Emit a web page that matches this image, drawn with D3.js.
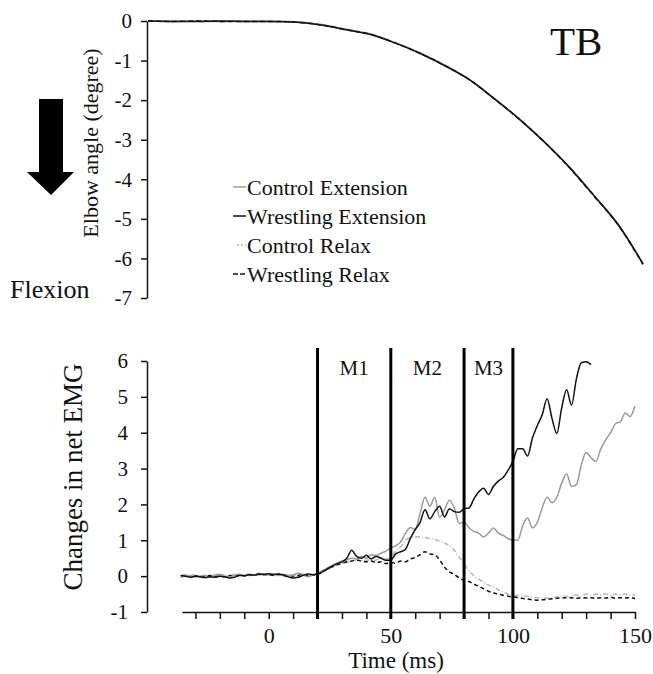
<!DOCTYPE html>
<html>
<head>
<meta charset="utf-8">
<script src="https://cdn.jsdelivr.net/npm/d3@7"></script>
<style>
  body { margin: 0; background: #fff; }
  text { font-family: "Liberation Serif", "Times New Roman", serif; fill: #111; }
</style>
</head>
<body>
<svg width="653" height="674"></svg>
<script>
// ---- top panel: elbow angle (degree) ----
const angleTime = [-50, -40, -30, -20, -10, 0, 10, 20, 30, 40, 50, 60, 70, 80, 90, 100, 110, 120, 130, 140, 150];
const angleCtrlExt = [0, -0.01, 0, -0.01, 0, -0.01, -0.02, -0.09, -0.21, -0.33, -0.55, -0.81, -1.12, -1.48, -1.96, -2.47, -3.04, -3.67, -4.39, -5.14, -6.12];
const angleWrestExt = [0, -0.01, -0.01, 0, -0.01, -0.01, -0.03, -0.1, -0.22, -0.34, -0.56, -0.82, -1.13, -1.49, -1.97, -2.48, -3.05, -3.68, -4.4, -5.15, -6.14];
const angleCtrlRel = [0, 0, -0.01, -0.01, 0, 0, -0.02, -0.09, -0.21, -0.33, -0.55, -0.81, -1.12, -1.49, -1.97, -2.48, -3.05, -3.68, -4.4, -5.15, -6.13];
const angleWrestRel = [0, -0.01, 0, -0.01, -0.01, -0.01, -0.03, -0.1, -0.22, -0.34, -0.56, -0.82, -1.13, -1.49, -1.97, -2.48, -3.05, -3.69, -4.41, -5.16, -6.15];
const angleTicks = [0, -1, -2, -3, -4, -5, -6, -7];

// ---- bottom panel: changes in net EMG, every 2 ms from -36 to 150 ----
const emgTime = d3.range(-36, 151, 2);
const emgCtrlExt = [-0.05, 0.03, 0, -0.02, 0, 0.02, -0.03, 0.04, 0.05, 0, -0.02, 0.03, 0.05, 0.02, 0.06, 0.02, 0.08, 0.03, 0.05, 0.07,
  0.02, 0.05, 0, 0.03, 0.08, 0.05, -0.02, 0.03, 0.08, 0.15, 0.22, 0.3, 0.36, 0.42, 0.45, 0.5, 0.48, 0.55, 0.5, 0.6,
  0.58, 0.64, 0.7, 0.78, 0.85, 0.95, 1.2, 1.36, 1.3, 1.75, 2.2, 1.95, 2.2, 1.64, 1.85, 2.12, 1.9, 1.47, 1.5, 1.35,
  1.25, 1.2, 1.09, 1.2, 1.34, 1.2, 1.14, 1.05, 1.0, 1.0, 1.4, 1.62, 1.35, 1.5, 1.9, 2.2, 2.05, 2.2, 2.6, 2.85,
  2.5, 2.55, 3.1, 3.45, 3.3, 3.2, 3.55, 3.8, 4.0, 4.25, 4.3, 4.55, 4.45, 4.75, 5.1, 4.7];
const emgWrestExt = [0.02, 0, -0.03, 0, -0.02, -0.04, -0.02, -0.03, 0, -0.02, -0.05, -0.03, 0.02, 0.01, 0.04, 0.03, 0.06, 0.05, 0.07, 0.04,
  0.06, 0.03, -0.02, -0.05, -0.03, 0.02, 0.06, 0.04, 0.05, 0.12, 0.2, 0.28, 0.35, 0.4, 0.5, 0.72, 0.55, 0.5, 0.58, 0.48,
  0.55, 0.5, 0.44, 0.45, 0.62, 0.68, 0.75, 1.05, 1.3, 1.5, 1.85, 1.6, 1.8, 1.95, 1.65, 1.88, 1.8, 1.78, 1.88, 1.9,
  2.15, 2.35, 2.45, 2.28, 2.5, 2.65, 2.75, 2.95, 3.2, 3.55, 3.55, 3.35, 3.85, 4.2, 4.5, 4.95, 4.4, 3.98, 4.7, 5.2,
  4.77, 5.5, 5.95, 5.98, 5.9];
const emgCtrlRel = [0.03, -0.02, 0.02, 0.04, -0.01, 0.03, 0.01, -0.02, 0.02, 0.04, 0.01, 0.05, 0.02, 0.04, 0.01, 0.05, 0.03, 0.06, 0.02, 0.04,
  0.05, 0.02, 0.04, 0.01, 0.03, 0.06, 0.02, 0.04, 0.05, 0.12, 0.18, 0.25, 0.3, 0.35, 0.38, 0.42, 0.45, 0.43, 0.45, 0.42,
  0.45, 0.5, 0.48, 0.55, 0.7, 0.82, 1.0, 1.07, 1.1, 1.1, 1.08, 1.05, 1.02, 0.98, 0.92, 0.85, 0.72, 0.53, 0.35, 0.15,
  0.02, -0.08, -0.17, -0.25, -0.3, -0.38, -0.44, -0.5, -0.53, -0.54, -0.55, -0.56, -0.58, -0.6, -0.6, -0.62, -0.6, -0.58, -0.55, -0.57,
  -0.55, -0.52, -0.55, -0.5, -0.53, -0.5, -0.52, -0.5, -0.53, -0.5, -0.52, -0.5, -0.53, -0.52];
const emgWrestRel = [0, 0.03, -0.02, 0.01, -0.03, 0, 0.02, -0.01, 0.01, -0.02, 0.02, 0, 0.03, 0.01, 0.04, 0.02, 0.05, 0.03, 0.04, 0.02,
  0.05, 0.01, 0.03, 0, 0.02, 0.04, 0.01, 0.03, 0.05, 0.12, 0.2, 0.26, 0.32, 0.36, 0.4, 0.42, 0.45, 0.42, 0.4, 0.42,
  0.38, 0.4, 0.35, 0.38, 0.36, 0.42, 0.4, 0.48, 0.52, 0.6, 0.68, 0.62, 0.6, 0.45, 0.25, 0.12, 0.05, -0.05, -0.12, -0.15,
  -0.22, -0.28, -0.35, -0.42, -0.47, -0.5, -0.53, -0.56, -0.58, -0.6, -0.62, -0.64, -0.66, -0.67, -0.66, -0.65, -0.63, -0.62, -0.6, -0.61,
  -0.6, -0.62, -0.6, -0.61, -0.6, -0.62, -0.6, -0.61, -0.59, -0.62, -0.6, -0.61, -0.6, -0.63];
const emgTicks = [-1, 0, 1, 2, 3, 4, 5, 6];
const timeTicks = d3.range(-30, 151, 10);
const timeLabels = [0, 50, 100, 150];
const phaseLines = [20, 50, 80, 100];
const phaseNames = ["M1", "M2", "M3"];

const legendNames = ["Control Extension", "Wrestling Extension", "Control Relax", "Wrestling Relax"];
const legendColors = ["#9a9a9a", "#111", "#b8b8b8", "#111"];
const legendDash = [null, null, "2,2", "5,2"];

const serif = "'Liberation Serif', 'Times New Roman', serif";
const svg = d3.select("svg");

// scales
const xTop = d3.scaleLinear().domain([-50, 150]).range([148, 643]);
const yTop = d3.scaleLinear().domain([-7, 0]).range([298, 21]);
const xEmg = d3.scaleLinear().domain([-35.5, 150]).range([182, 635]);
const yEmg = d3.scaleLinear().domain([-1, 6]).range([612, 361]);

function drawSeries(xs, ys, xScale, yScale, color, dash, width) {
    const pts = xs.slice(0, ys.length).map((t, i) => [t, ys[i]]);
    const line = d3.line()
        .x(d => xScale(d[0]))
        .y(d => yScale(d[1]))
        .curve(d3.curveMonotoneX);
    svg.append("path")
        .datum(pts)
        .attr("d", line)
        .attr("fill", "none")
        .attr("stroke", color)
        .attr("stroke-width", width)
        .attr("stroke-dasharray", dash);
}

function styleAxis(g, size) {
    g.attr("font-family", null);
    g.selectAll("path, line").attr("stroke", "#111").attr("stroke-width", 1.5);
    g.selectAll("text")
        .style("font-family", serif)
        .style("font-size", size + "px")
        .attr("fill", "#111");
}

//top panel
const gTopAxis = svg.append("g")
    .attr("transform", "translate(147,0)")
    .call(d3.axisLeft(yTop).tickValues(angleTicks).tickSize(6).tickSizeOuter(0).tickPadding(9)
        .tickFormat(d => String(d)));
styleAxis(gTopAxis, 21);

drawSeries(angleTime, angleCtrlExt, xTop, yTop, "#9a9a9a", null, 1.5);
drawSeries(angleTime, angleCtrlRel, xTop, yTop, "#b8b8b8", "5,2,1,2", 1.5);
drawSeries(angleTime, angleWrestExt, xTop, yTop, "#111", null, 1.5);
drawSeries(angleTime, angleWrestRel, xTop, yTop, "#111", "5,3", 1.5);

svg.append("text")
    .attr("transform", "translate(98,143) rotate(-90)")
    .attr("text-anchor", "middle")
    .attr("font-size", 22)
    .text("Elbow angle (degree)");

svg.append("text").attr("x", 550).attr("y", 55).attr("font-size", 41).text("TB");
svg.append("text").attr("x", 10).attr("y", 298).attr("font-size", 26).text("Flexion");

//flexion arrow
svg.append("path")
    .attr("d", "M39,99 L63,99 L63,172 L74,172 L51,195 L27,172 L39,172 Z")
    .attr("fill", "#000");

//legend
legendNames.forEach((name, i) => {
    const y = 195 + i * 29;
    const x0 = i == 2 ? 237 : 233;
    svg.append("line")
        .attr("x1", x0).attr("x2", 246)
        .attr("y1", y - 8).attr("y2", y - 8)
        .attr("stroke", legendColors[i])
        .attr("stroke-width", 1.5)
        .attr("stroke-dasharray", legendDash[i]);
    svg.append("text").attr("x", 247).attr("y", y).attr("font-size", 22).text(name);
});

//bottom panel
const gEmgY = svg.append("g")
    .attr("transform", "translate(147,0)")
    .call(d3.axisLeft(yEmg).tickValues(emgTicks).tickSize(6).tickSizeOuter(0).tickPadding(13)
        .tickFormat(d => String(d)));
styleAxis(gEmgY, 21);

const gEmgX = svg.append("g")
    .attr("transform", "translate(0,612)")
    .call(d3.axisBottom(xEmg).tickValues(timeTicks).tickSize(7).tickSizeOuter(0).tickPadding(8)
        .tickFormat(d => timeLabels.includes(d) ? String(d) : ""));
styleAxis(gEmgX, 22);

drawSeries(emgTime, emgCtrlRel, xEmg, yEmg, "#b8b8b8", "5,2,1,2", 1.5);
drawSeries(emgTime, emgWrestRel, xEmg, yEmg, "#111", "4,3", 1.5);
drawSeries(emgTime, emgCtrlExt, xEmg, yEmg, "#9a9a9a", null, 1.5);
drawSeries(emgTime, emgWrestExt, xEmg, yEmg, "#111", null, 1.5);

//phase boundaries
phaseLines.forEach(t => {
    svg.append("line")
        .attr("x1", xEmg(t)).attr("x2", xEmg(t))
        .attr("y1", 348).attr("y2", 619)
        .attr("stroke", "#000")
        .attr("stroke-width", 3);
});
phaseNames.forEach((name, i) => {
    svg.append("text")
        .attr("x", (xEmg(phaseLines[i]) + xEmg(phaseLines[i + 1])) / 2)
        .attr("y", 375)
        .attr("text-anchor", "middle")
        .attr("font-size", 21)
        .text(name);
});

svg.append("text")
    .attr("transform", "translate(82,477) rotate(-90)")
    .attr("text-anchor", "middle")
    .attr("font-size", 27)
    .text("Changes in net EMG");

svg.append("text")
    .attr("x", 396).attr("y", 668)
    .attr("text-anchor", "middle")
    .attr("font-size", 23)
    .text("Time (ms)");
</script>
</body>
</html>
